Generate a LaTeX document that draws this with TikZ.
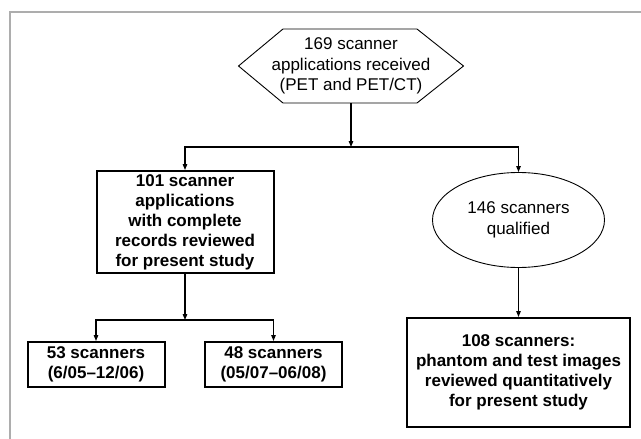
\documentclass[tikz,border=0pt]{standalone}
\usepackage{fontspec}
\setmainfont{Liberation Sans}
\usetikzlibrary{shapes.geometric,arrows.meta}
\begin{document}
\begin{tikzpicture}[x=1pt,y=1pt,
    every node/.style={font=\fontsize{17}{20.5}\selectfont, align=center, inner sep=0pt},
    thinline/.style={line width=0.9pt},
    boldbox/.style={draw, line width=2pt, font=\fontsize{17}{20}\selectfont\bfseries},
    link/.style={line width=1.2pt, -{Triangle[length=6pt,width=4.5pt]}},
    bar/.style={line width=1.2pt, line cap=rect}]
      \useasboundingbox (0,0) rectangle (641,-439);
      \draw[black!32, line width=1.5pt] (641,-12) -- (10,-12) -- (10,-439);
      %%%%%%%%%%%%%%%%%%%%%%%%%%%%%%%%%%%%%%%%%%%%%%%
      \node[minimum height=74pt] at (351,-66) (apps) {169 scanner\\applications received\\(PET and PET/CT)};
      \draw[thinline] (283,-29) -- (417,-29) -- (463.5,-66) -- (417,-103)
            -- (283,-103) -- (238.5,-66) -- cycle;
      %%%%%%%%%%%%%%%%%%%%%%%%%%%%%%%%%%%%%%%%%%%%%%%
      \coordinate (top)  at (351,-147);
      \coordinate (topl) at (185,-147);
      \coordinate (topr) at (518.5,-147);
      \draw[link] (apps) -- (top);
      \draw[bar] (topl) -- (topr);
      %%%%%%%%%%%%%%%%%%%%%%%%%%%%%%%%%%%%%%%%%%%%%%%
      \node[boldbox, minimum width=177pt, minimum height=102pt] at (185,-222) (recs)
            {101 scanner\\applications\\with complete\\records reviewed\\for present study};
      \node[draw, thinline, ellipse, minimum width=172pt, minimum height=95pt] at (518.5,-220) (qual)
            {146 scanners\\qualified};
      \draw[link] (topl) -- (recs);
      \draw[link] (topr) -- (qual);
      %%%%%%%%%%%%%%%%%%%%%%%%%%%%%%%%%%%%%%%%%%%%%%%
      \coordinate (low)  at (185,-320);
      \coordinate (lowl) at (96,-320);
      \coordinate (lowr) at (273.5,-320);
      \draw[link] (recs) -- (low);
      \draw[bar] (lowl) -- (lowr);
      %%%%%%%%%%%%%%%%%%%%%%%%%%%%%%%%%%%%%%%%%%%%%%%
      \node[boldbox, minimum width=137pt, minimum height=45pt] at (96,-364.5) (early)
            {53 scanners\\(6/05--12/06)};
      \node[boldbox, minimum width=137pt, minimum height=45pt] at (273.5,-364.5) (late)
            {48 scanners\\(05/07--06/08)};
      \node[boldbox, minimum width=223pt, minimum height=109pt] at (518.5,-372.5) (phant)
            {108 scanners:\\phantom and test images\\reviewed quantitatively\\for present study};
      \draw[link] (lowl) -- (early);
      \draw[link] (lowr) -- (late);
      \draw[link] (qual) -- (phant);
      %%%%%%%%%%%%%%%%%%%%%%%%%%%%%%%%%%%%%%%%%%%%%%%
\end{tikzpicture}
\end{document}
